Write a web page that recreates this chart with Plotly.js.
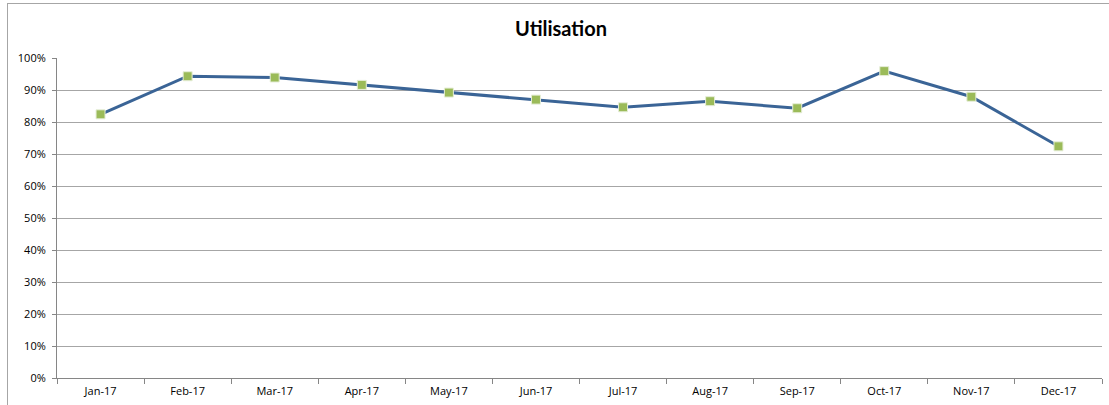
<!DOCTYPE html>
<html>
<head>
<meta charset="utf-8">
<script src="https://cdn.plot.ly/plotly-3.0.1.min.js"></script>
<style>
html,body{margin:0;padding:0;background:#fff;}
#wrap{position:relative;width:1109px;height:405px;overflow:hidden;}
#frame{position:absolute;left:7px;top:3px;width:1200px;height:500px;border-left:1px solid #a6a6a6;border-top:1px solid #a6a6a6;pointer-events:none;}
#chart{position:absolute;left:0;top:0;width:1109px;height:405px;}
</style>
</head>
<body>
<div id="wrap">
<div id="chart"></div>
<div id="frame"></div>
</div>
<script>
const months = ['Jan-17','Feb-17','Mar-17','Apr-17','May-17','Jun-17','Jul-17','Aug-17','Sep-17','Oct-17','Nov-17','Dec-17'];
const utilisation = [0.824, 0.943, 0.939, 0.916, 0.892, 0.870, 0.846, 0.865, 0.843, 0.959, 0.879, 0.724];
const yTickVals = [0,0.1,0.2,0.3,0.4,0.5,0.6,0.7,0.8,0.9,1.0];

const trace = {
  x: months,
  y: utilisation,
  type: 'scatter',
  mode: 'lines+markers',
  line: {color: '#3a6496', width: 3},
  marker: {symbol: 'square', size: 9, color: '#9bbb59', line: {color: '#e6eed8', width: 1}},
  hoverinfo: 'skip'
};

const layout = {
  width: 1109, height: 405,
  margin: {l: 57, r: 7, t: 58, b: 27, pad: 0},
  paper_bgcolor: '#ffffff', plot_bgcolor: '#ffffff',
  showlegend: false,
  title: {
    text: '<b>Utilisation</b>',
    font: {family: 'Lato, "Open Sans", sans-serif', size: 20, color: '#000000'},
    x: 561/1109, xref: 'container', xanchor: 'center',
    y: 1 - 29/405, yref: 'container', yanchor: 'middle'
  },
  xaxis: {
    type: 'category',
    tickson: 'boundaries',
    ticks: 'outside', ticklen: 5, tickcolor: '#868686', tickwidth: 1,
    ticklabelstandoff: 3,
    showline: true, linecolor: '#868686', linewidth: 1,
    showgrid: false, zeroline: false,
    tickfont: {family: '"Open Sans", "Noto Sans", sans-serif', size: 11, color: '#000000'},
    range: [-0.5, 11.5]
  },
  yaxis: {
    range: [0, 1.0],
    tickvals: yTickVals,
    tickformat: '.0%',
    ticks: 'outside', ticklen: 4, tickcolor: '#868686', tickwidth: 1,
    ticklabelstandoff: 4,
    showline: true, linecolor: '#868686', linewidth: 1,
    showgrid: true, gridcolor: '#a6a6a6', gridwidth: 1,
    zeroline: false,
    tickfont: {family: '"Open Sans", "Noto Sans", sans-serif', size: 11, color: '#000000'}
  }
};

Plotly.newPlot('chart', [trace], layout, {displayModeBar: false, staticPlot: true});
</script>
</body>
</html>
